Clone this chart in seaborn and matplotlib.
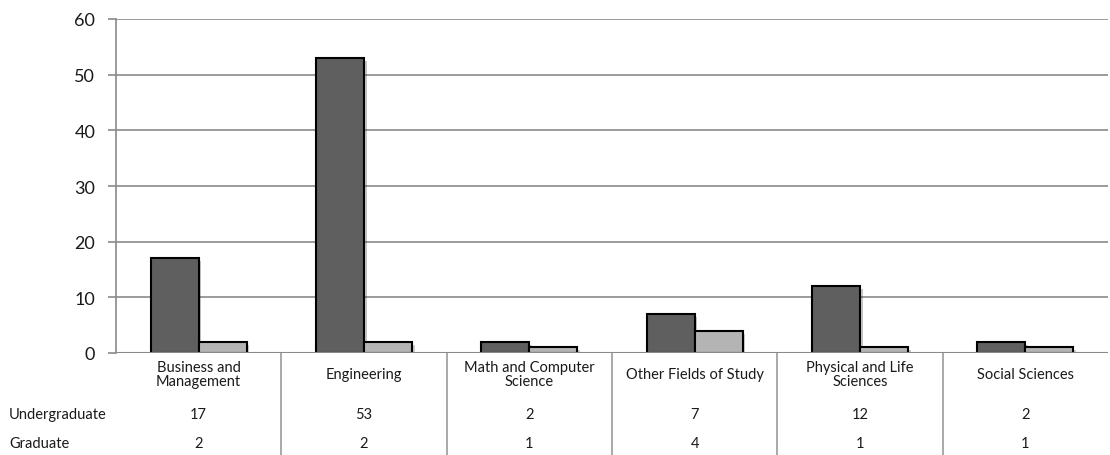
import matplotlib
matplotlib.use("Agg")
import matplotlib.pyplot as plt
import matplotlib.patheffects as pe
import matplotlib.transforms as mtransforms
import seaborn as sns
import pandas as pd

categories = ["Business and\nManagement", "Engineering", "Math and Computer\nScience",
              "Other Fields of Study", "Physical and Life\nSciences", "Social Sciences"]
series_names = ["Undergraduate", "Graduate"]
undergraduate = [17, 53, 2, 7, 12, 2]
graduate = [2, 2, 1, 4, 1, 1]
y_ticks = [0, 10, 20, 30, 40, 50, 60]

df = pd.DataFrame({
    "category": categories * 2,
    "series": [series_names[0]] * len(categories) + [series_names[1]] * len(categories),
    "value": undergraduate + graduate,
})

sns.set_theme(style="white")
plt.rcParams["font.family"] = ["Lato", "DejaVu Sans"]

fig = plt.figure(figsize=(11.1, 4.56), dpi=100)
ax = fig.add_axes([116 / 1110, 102 / 456, (1108 - 116) / 1110, 334 / 456])

sns.barplot(data=df, x="category", y="value", hue="series", order=categories,
            hue_order=series_names, palette=["#5f5f5f", "#b4b4b4"], width=0.58,
            edgecolor="black", linewidth=1.5, saturation=1, legend=False, ax=ax, zorder=3)

shadow = [pe.SimplePatchShadow(offset=(2, -2), alpha=0.25), pe.Normal()]
for p in ax.patches:
    p.set_path_effects(shadow)

ax.set_xlim(-0.5, len(categories) - 0.5)
ax.set_ylim(0, 60)
ax.set_yticks(y_ticks)
ax.yaxis.grid(True, color="#8a8a8a", linewidth=1.2, zorder=0)
ax.set_axisbelow(True)
for s in ["top", "right", "bottom"]:
    ax.spines[s].set_visible(False)
ax.spines["left"].set_color("#8a8a8a")
ax.spines["left"].set_linewidth(1.2)
ax.tick_params(axis="y", which="major", left=True, length=6, width=1.2, color="#8a8a8a",
               pad=9, labelsize=13, labelcolor="#1a1a1a")
ax.set_xticks([])
ax.set_xlabel("")
ax.set_ylabel("")

# bottom axis line with shadow
ax.axhline(0, color="#8a8a8a", linewidth=1.5, zorder=4,
           path_effects=[pe.SimpleLineShadow(offset=(1, -2), alpha=0.35), pe.Normal()])

# data table below
trans = mtransforms.blended_transform_factory(ax.transData, ax.transAxes)
fig_trans = mtransforms.blended_transform_factory(fig.transFigure, ax.transAxes)
row_y = [-0.183, -0.269]
tcolor = "#1a1a1a"
fs = 10.5
for i, cat in enumerate(categories):
    ax.text(i, -0.063, cat, transform=trans, ha="center", va="center", fontsize=fs,
            color=tcolor, linespacing=1.05, clip_on=False)
    ax.text(i, row_y[0], str(undergraduate[i]), transform=trans, ha="center", va="center",
            fontsize=fs, color=tcolor, clip_on=False)
    ax.text(i, row_y[1], str(graduate[i]), transform=trans, ha="center", va="center",
            fontsize=fs, color=tcolor, clip_on=False)
for name, yy in zip(series_names, row_y):
    ax.text(9 / 1110, yy, name, transform=fig_trans, ha="left", va="center",
            fontsize=fs, color=tcolor, clip_on=False)
for b in range(len(categories) - 1):
    ax.plot([b + 0.5, b + 0.5], [0, -0.31], transform=trans, color="#9a9a9a",
            linewidth=1.2, clip_on=False)

fig.savefig("out.png", dpi=100)
